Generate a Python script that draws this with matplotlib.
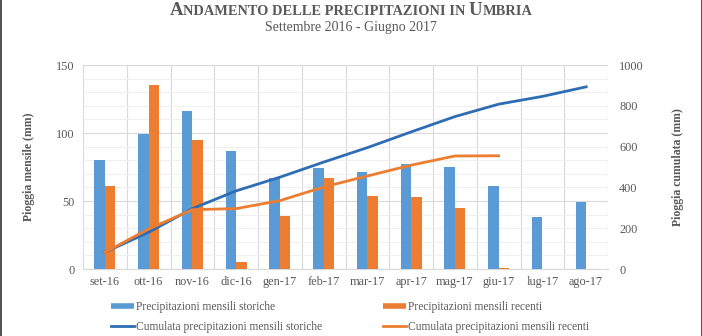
import matplotlib
matplotlib.use("Agg")
import matplotlib.pyplot as plt
from matplotlib.lines import Line2D
from matplotlib.offsetbox import TextArea, HPacker, AnchoredOffsetbox
from matplotlib.ticker import MultipleLocator
import numpy as np

plt.rcParams['font.family'] = ['Liberation Serif', 'DejaVu Serif']

months = ['set-16', 'ott-16', 'nov-16', 'dic-16', 'gen-17', 'feb-17',
          'mar-17', 'apr-17', 'mag-17', 'giu-17', 'lug-17', 'ago-17']
storiche = [80, 99, 116, 87, 67, 74, 71, 77, 75, 61, 38, 49]
recenti = [61, 135, 95, 5, 39, 67, 54, 53, 45, 1, None, None]
cum_storiche = [82, 180, 296, 383, 450, 524, 595, 672, 747, 808, 846, 893]
cum_recenti = [82, 196, 291, 296, 335, 402, 456, 509, 554, 555]

BLUE = '#5B9BD5'
ORANGE = '#ED7D31'
DARK_BLUE = '#2E6DB4'
TEXT = '#595959'

fig = plt.figure(figsize=(7.02, 3.36), dpi=100)
ax = fig.add_axes([83/702, 67/336, 525/702, 204/336])

x = np.arange(len(months))
w = 0.24
ax.bar(x - w/2, storiche, w, color=BLUE, zorder=3)
rec_idx = [i for i, v in enumerate(recenti) if v is not None]
ax.bar(x[rec_idx] + w/2, [recenti[i] for i in rec_idx], w, color=ORANGE, zorder=3)

ax.set_xlim(-0.5, len(months) - 0.5)
ax.set_ylim(0, 150)
ax.yaxis.set_major_locator(MultipleLocator(50))
ax.yaxis.set_minor_locator(MultipleLocator(10))
ax.set_xticks(x)
ax.set_xticklabels(months)
ax.set_xticks(np.arange(-0.5, len(months)), minor=True)
ax.grid(True, which='major', axis='y', color='#D9D9D9', lw=0.8, zorder=0)
ax.grid(True, which='minor', axis='y', color='#F0F0F0', lw=0.8, zorder=0)
ax.grid(True, which='minor', axis='x', color='#D9D9D9', lw=0.8, zorder=0)
ax.tick_params(axis='both', which='both', length=0, colors=TEXT, labelsize=8.8)
ax.tick_params(axis='x', pad=5)
ax.tick_params(axis='y', pad=6)
for s in ['top', 'right', 'left']:
    ax.spines[s].set_visible(False)
ax.spines['bottom'].set_color('#D9D9D9')
ax.set_ylabel('Pioggia mensile (mm)', fontsize=8.5, fontweight='bold', color=TEXT, labelpad=15)

ax2 = ax.twinx()
ax2.plot(x, cum_storiche, color=DARK_BLUE, lw=2.0, zorder=4)
ax2.plot(x[:len(cum_recenti)], cum_recenti, color=ORANGE, lw=2.0, zorder=4)
ax2.set_ylim(0, 1000)
ax2.yaxis.set_major_locator(MultipleLocator(200))
ax2.tick_params(axis='y', length=0, colors=TEXT, labelsize=8.8, pad=8)
for s in ['top', 'right', 'left', 'bottom']:
    ax2.spines[s].set_visible(False)
ax2.set_ylabel('Pioggia cumulata (mm)', fontsize=8.5, fontweight='bold', color=TEXT, labelpad=20)

# Title in small caps
big = dict(fontsize=13.5, fontweight='bold', color=TEXT)
small = dict(fontsize=10.4, fontweight='bold', color=TEXT)
parts = [TextArea('A', textprops=big),
         TextArea('NDAMENTO DELLE PRECIPITAZIONI IN ', textprops=small),
         TextArea('U', textprops=big),
         TextArea('MBRIA', textprops=small)]
title = HPacker(children=parts, align='baseline', pad=0, sep=0)
fig.add_artist(AnchoredOffsetbox(loc='upper center', child=title, pad=0, borderpad=0,
                                 frameon=False, bbox_to_anchor=(0.5, 1 - 2/336),
                                 bbox_transform=fig.transFigure))
fig.text(0.5, 1 - 28/336, 'Settembre 2016 - Giugno 2017', ha='center', va='center',
         fontsize=10, color=TEXT)

handles = [Line2D([], [], color=BLUE, lw=4, solid_capstyle='butt'),
           Line2D([], [], color=DARK_BLUE, lw=2),
           Line2D([], [], color=ORANGE, lw=4, solid_capstyle='butt'),
           Line2D([], [], color=ORANGE, lw=2)]
labels = ['Precipitazioni mensili storiche', 'Cumulata precipitazioni mensili storiche',
          'Precipitazioni mensili recenti', 'Cumulata precipitazioni mensili recenti']
leg = fig.legend(handles, labels, ncol=2, loc='center', bbox_to_anchor=(350/702, 19/336),
                 frameon=False, fontsize=8.3, handlelength=2.0, handletextpad=0.15,
                 columnspacing=5.3, labelspacing=0.75, borderpad=0, borderaxespad=0)
for t in leg.get_texts():
    t.set_color(TEXT)

# thin frame lines on the side edges
fig.add_artist(Line2D([0.5/702, 0.5/702], [0, 1], color='#333333', lw=1.2, transform=fig.transFigure))
fig.add_artist(Line2D([1 - 0.5/702, 1 - 0.5/702], [0, 1], color='#333333', lw=1.2, transform=fig.transFigure))

fig.savefig('out.png', dpi=100)
